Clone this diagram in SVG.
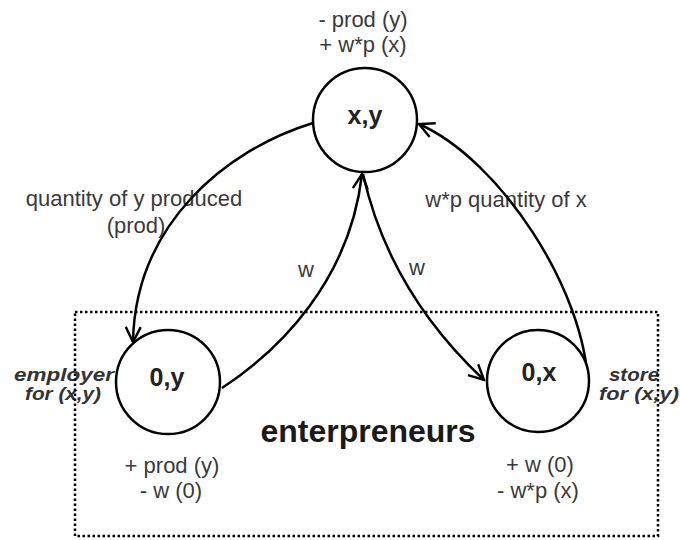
<svg xmlns="http://www.w3.org/2000/svg" width="680" height="540" viewBox="0 0 680 540">
  <style>
    .lbl { font-family: "Liberation Sans", Arial, sans-serif; font-size: 22px; fill: #3a3a3a; text-anchor: middle; }
    .node { fill: #ffffff; stroke: #000000; stroke-width: 2.5; }
    .nlbl { font-family: "Liberation Sans", Arial, sans-serif; font-size: 25px; font-weight: bold; fill: #222222; text-anchor: middle; }
    .role { font-family: "Liberation Sans", Arial, sans-serif; font-size: 18px; font-weight: bold; font-style: italic; fill: #333333; text-anchor: middle; }
    .edge { fill: none; stroke: #000000; stroke-width: 2.5; marker-end: url(#arrow); }
    .group { fill: none; stroke: #000000; stroke-width: 2.5; stroke-dasharray: 2.5 2.5; }
  </style>
  <defs>
    <marker id="arrow" viewBox="0 0 12 12" refX="11" refY="6" markerWidth="18" markerHeight="18" markerUnits="userSpaceOnUse" orient="auto">
      <path d="M1,1 L11,6 L1,11" fill="none" stroke="#000000" stroke-width="1.6"/>
    </marker>
  </defs>
  <rect width="680" height="540" fill="#ffffff"/>

  <g id="edge-labels">
    <text class="lbl" x="134" y="206">quantity of y produced</text>
    <text class="lbl" x="136" y="233">(prod)</text>
    <text class="lbl" x="506" y="207">w*p quantity of x</text>
    <text class="lbl" x="306" y="277">w</text>
    <text class="lbl" x="417" y="275">w</text>
  </g>

  <g id="roles">
    <text class="role" x="64" y="381" textLength="100" lengthAdjust="spacingAndGlyphs">employer</text>
    <text class="role" x="63" y="400" textLength="76" lengthAdjust="spacingAndGlyphs">for (x,y)</text>
    <text class="role" x="634" y="381" textLength="50" lengthAdjust="spacingAndGlyphs">store</text>
    <text class="role" x="639" y="400" textLength="80" lengthAdjust="spacingAndGlyphs">for (x,y)</text>
  </g>

  <g id="enterpreneurs">
    <rect class="group" x="75" y="312" width="583" height="224"/>
    <text x="368" y="442" font-family="Liberation Sans, Arial, sans-serif" font-size="32" font-weight="bold" fill="#1a1a1a" text-anchor="middle">enterpreneurs</text>
  </g>

  <g id="connectors">
    <path class="edge" d="M313,123 C225,150 135,225 133,342"/>
    <path class="edge" d="M222,388 C280,350 350,280 362,174"/>
    <path class="edge" d="M363,174 C380,250 420,320 484,380"/>
    <path class="edge" d="M588,385 C585,290 500,160 419,124"/>
  </g>

  <g id="node-xy">
    <circle class="node" cx="365" cy="120" r="52"/>
    <text class="nlbl" x="365" y="124">x,y</text>
    <text class="lbl" x="363" y="27">- prod (y)</text>
    <text class="lbl" x="363" y="52">+ w*p (x)</text>
  </g>

  <g id="node-0y">
    <circle class="node" cx="168" cy="382" r="52"/>
    <text class="nlbl" x="167" y="386">0,y</text>
    <text class="lbl" x="172" y="473">+ prod (y)</text>
    <text class="lbl" x="171" y="498">- w (0)</text>
  </g>

  <g id="node-0x">
    <circle class="node" cx="538" cy="381" r="51"/>
    <text class="nlbl" x="539" y="381">0,x</text>
    <text class="lbl" x="540" y="472">+ w (0)</text>
    <text class="lbl" x="538" y="498">- w*p (x)</text>
  </g>
</svg>
